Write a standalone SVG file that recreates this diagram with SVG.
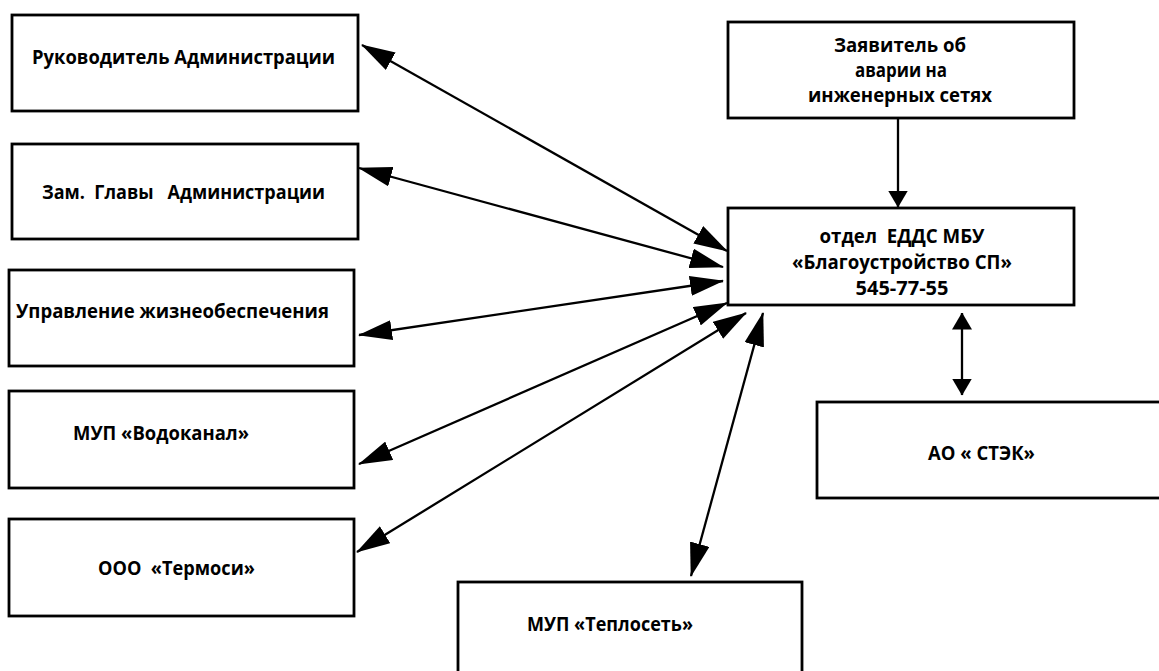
<svg xmlns="http://www.w3.org/2000/svg" width="1159" height="671" viewBox="0 0 1159 671">
<style>
.box{fill:#fff;stroke:#000;stroke-width:2.8}
.t{font-family:"Open Sans","Liberation Sans",sans-serif;font-weight:bold;font-size:19px;fill:#000;white-space:pre}
.c{text-anchor:middle}
.ln{stroke:#000;stroke-width:2.3;fill:none}
.dg{marker-start:url(#hd);marker-end:url(#hd)}
.vt{marker-start:url(#hv);marker-end:url(#hv)}
</style>
<defs>
<marker id="hd" viewBox="0 0 34 20" markerUnits="userSpaceOnUse" markerWidth="34" markerHeight="20" refX="33" refY="10" orient="auto-start-reverse">
<path d="M0,0 L34,10 L0,20 z" fill="#000"/>
</marker>
<marker id="hv" viewBox="0 0 17 20" markerUnits="userSpaceOnUse" markerWidth="17" markerHeight="20" refX="16.5" refY="10" orient="auto-start-reverse">
<path d="M0,0 L17,10 L0,20 z" fill="#000"/>
</marker>
</defs>
<rect width="1159" height="671" fill="#fff"/>
<g id="n1"><rect class="box" x="12" y="15" width="346" height="96"/><text class="t" x="32" y="64" textLength="303" lengthAdjust="spacingAndGlyphs">Руководитель Администрации</text></g>
<g id="n2"><rect class="box" x="12" y="144" width="346" height="95"/><text class="t" x="42" y="199" textLength="283" lengthAdjust="spacingAndGlyphs">Зам.  Главы   Администрации</text></g>
<g id="n3"><rect class="box" x="9" y="270" width="345" height="96"/><text class="t" x="16" y="318" textLength="313" lengthAdjust="spacingAndGlyphs">Управление жизнеобеспечения</text></g>
<g id="n4"><rect class="box" x="9" y="391" width="345" height="97"/><text class="t" x="73" y="440" textLength="176" lengthAdjust="spacingAndGlyphs">МУП «Водоканал»</text></g>
<g id="n5"><rect class="box" x="9" y="519" width="345" height="97"/><text class="t" x="98" y="575" textLength="157" lengthAdjust="spacingAndGlyphs">ООО  «Термоси»</text></g>
<g id="n6"><rect class="box" x="728" y="22" width="346" height="96"/>
<text class="t c" x="900" y="52" textLength="132" lengthAdjust="spacingAndGlyphs">Заявитель об</text>
<text class="t c" x="901" y="77" textLength="92" lengthAdjust="spacingAndGlyphs">аварии на</text>
<text class="t c" x="900" y="102" textLength="184" lengthAdjust="spacingAndGlyphs">инженерных сетях</text></g>
<g id="n7"><rect class="box" x="728" y="208" width="346" height="97"/>
<text class="t c" x="902" y="243" textLength="165" lengthAdjust="spacingAndGlyphs">отдел  ЕДДС МБУ</text>
<text class="t c" x="902" y="269" textLength="220" lengthAdjust="spacingAndGlyphs">«Благоустройство СП»</text>
<text class="t c" x="902" y="295" textLength="93" lengthAdjust="spacingAndGlyphs">545-77-55</text></g>
<g id="n8"><rect class="box" x="817" y="402" width="350" height="96"/><text class="t" x="928" y="460" textLength="107" lengthAdjust="spacingAndGlyphs">АО « СТЭК»</text></g>
<g id="n9"><rect class="box" x="458" y="582" width="344" height="100"/><text class="t" x="527" y="631" textLength="166" lengthAdjust="spacingAndGlyphs">МУП «Теплосеть»</text></g>
<g id="connectors">
<line class="ln dg" x1="362" y1="45" x2="727" y2="251"/>
<line class="ln dg" x1="359" y1="168" x2="723" y2="267"/>
<line class="ln dg" x1="359" y1="335" x2="723" y2="281"/>
<line class="ln dg" x1="359" y1="464" x2="727" y2="303"/>
<line class="ln dg" x1="357" y1="552" x2="746" y2="313"/>
<line class="ln dg" x1="763" y1="313" x2="691" y2="576"/>
<line class="ln" x1="898" y1="118" x2="898" y2="207" marker-end="url(#hv)"/>
<line class="ln vt" x1="962" y1="313" x2="962" y2="395"/>
</g>
</svg>
